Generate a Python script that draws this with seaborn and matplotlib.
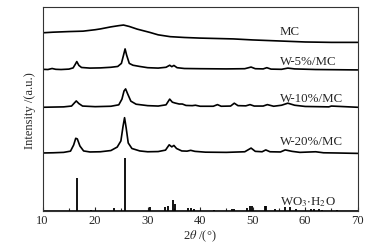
import seaborn as sns
import matplotlib.pyplot as plt
import pandas as pd
from matplotlib.ticker import MultipleLocator

# XRD curves, intensity in arbitrary units (0-100 axis)
mc_x = [10, 12, 15, 17.7, 20, 21, 23, 24.5, 25.4, 26.5, 28, 30.4, 32, 34.3, 37, 40, 46.3, 50, 55, 60, 65, 70]
mc_y = [87.5, 87.8, 88.1, 88.3, 89.0, 89.4, 90.4, 91.0, 91.3, 90.6, 89.3, 87.7, 86.5, 85.6, 85.2, 84.9, 84.5, 84.0, 83.5, 83.0, 82.8, 82.8]

w5_x = [10, 11, 11.8, 12.5, 13.5, 15, 15.8, 16.2, 16.5, 16.9, 17.4, 19, 21, 23, 24.3, 25.0, 25.4, 25.7, 26.0, 26.5, 27.2, 28.5, 30, 32,
        33.5, 34.2, 34.6, 35.0, 35.6, 37, 40, 45, 48.5, 49.7, 50.5, 52, 52.7, 53.5, 55.5, 56.7, 58, 62, 66, 70]
w5_y = [69.6, 69.5, 70.0, 69.6, 69.5, 69.7, 70.3, 72.0, 73.4, 71.5, 70.5, 70.2, 70.3, 70.6, 71.0, 72.5, 76.5, 79.6, 76.5, 72.5, 71.6, 71.0, 70.4, 70.2,
        70.6, 71.6, 70.9, 71.5, 70.4, 70.0, 69.9, 69.8, 69.9, 70.7, 69.9, 69.8, 70.4, 69.7, 69.6, 70.2, 69.8, 69.5, 69.4, 69.3]

w10_x = [10, 12, 14, 15.5, 16.0, 16.4, 16.9, 17.6, 20, 23, 24.5, 25.1, 25.5, 25.8, 26.2, 26.8, 27.8, 30, 32, 33.5, 34.2, 34.7, 35.2, 36.0,
         36.6, 37.3, 38.5, 39.1, 40, 42.5, 43.3, 44, 45.8, 46.5, 47.2, 48.7, 49.5, 50.3, 52, 52.8, 54, 55.5, 56.7, 58, 60, 64.5, 65, 70]
w10_y = [51.0, 51.1, 51.2, 51.6, 53.0, 54.1, 52.8, 51.6, 51.3, 51.5, 52.2, 55.0, 59.0, 60.0, 57.5, 54.0, 52.5, 51.8, 51.6, 52.2, 55.0, 53.5, 53.1, 52.6,
         52.6, 51.9, 51.8, 52.0, 51.5, 51.5, 52.3, 51.5, 51.6, 53.0, 51.8, 51.7, 52.3, 51.6, 51.6, 52.3, 51.5, 52.0, 53.0, 52.0, 51.4, 51.2, 51.6, 51.0]

w20_x = [10, 12, 14, 15.3, 15.9, 16.3, 16.6, 17.1, 17.8, 19, 21, 23, 24.2, 24.9, 25.3, 25.6, 25.9, 26.3, 27, 28.5, 30, 32, 33.4, 34.1,
         34.6, 35.0, 35.5, 36.5, 37.5, 38.2, 39, 41, 45, 48.5, 49.7, 50.5, 51.8, 52.5, 53.3, 55.3, 56.2, 57.5, 59, 62, 63.5, 66, 70]
w20_y = [28.6, 28.7, 28.9, 29.5, 32.5, 35.8, 35.5, 32.0, 29.6, 29.1, 29.2, 29.8, 31.5, 34.5, 41.5, 45.9, 41.0, 33.5, 30.8, 29.6, 29.2, 29.3, 30.0, 32.6,
         31.6, 32.3, 30.8, 29.6, 29.5, 29.9, 29.4, 29.0, 28.9, 29.2, 31.0, 29.4, 29.2, 30.1, 29.2, 29.1, 30.1, 29.4, 28.9, 29.2, 28.7, 28.6, 28.4]

# reference pattern (stick peaks)
ref_pos = [16.5, 19.2, 23.6, 25.7, 30.5, 33.3, 33.9, 34.9, 35.2, 37.6, 38.2, 38.8, 42.7, 46.0, 46.5, 49.0, 49.4, 49.8,
           52.3, 52.6, 54.3, 56.1, 57.1, 58.2, 61.2, 61.7, 62.7, 63.2, 66.1]
ref_h = [16.3, 0.7, 1.6, 26.0, 2.0, 2.3, 2.8, 5.5, 3.5, 1.8, 1.5, 1.3, 0.8, 1.3, 1.3, 1.8, 2.6, 2.4,
         2.6, 2.6, 1.0, 2.3, 2.0, 1.0, 1.0, 1.2, 1.0, 0.8, 0.8]
ref_base = 0.3

names = ['MC', 'W-5%/MC', 'W-10%/MC', 'W-20%/MC', r'WO$_3$$\cdot$H$_2$O']
label_y = [88.5, 73.8, 55.5, 34.6, 5.2]

sns.set_style('white')
plt.rcParams['font.family'] = ['Liberation Serif', 'DejaVu Serif']
plt.rcParams['mathtext.fontset'] = 'stix'

fig = plt.figure(figsize=(3.71, 2.51), dpi=100)
ax = fig.add_axes([0.115, 0.154, 0.849, 0.813])

curves = [(mc_x, mc_y), (w5_x, w5_y), (w10_x, w10_y), (w20_x, w20_y)]
for xs, ys in curves:
    df = pd.DataFrame({'x': xs, 'y': ys})
    sns.lineplot(data=df, x='x', y='y', ax=ax, color='black', lw=1.2, estimator=None)

ax.hlines(ref_base, 10, 70, color='black', lw=1.2)
ax.vlines(ref_pos, ref_base, ref_h, color='black', lw=1.3)

for name, ly in zip(names, label_y):
    ax.text(55.2, ly, name, fontsize=9.3, va='center', ha='left')

ax.set_xlim(10, 70)
ax.set_ylim(0, 100)
ax.xaxis.set_major_locator(MultipleLocator(10))
ax.xaxis.set_minor_locator(MultipleLocator(5))
ax.tick_params(axis='x', which='major', direction='in', length=3, width=0.8, labelsize=9, pad=2, bottom=True, top=False)
ax.tick_params(axis='x', which='minor', direction='in', length=2, width=0.8, bottom=True, top=False)
ax.set_yticks([])
for s in ax.spines.values():
    s.set_color('#333333')
    s.set_linewidth(0.8)

ax.set_xlabel(r'2$\theta$ /(°)', fontsize=9, labelpad=1)
ax.set_ylabel('Intensity /(a.u.)', fontsize=9, labelpad=5)

fig.savefig('out.png', dpi=100)
